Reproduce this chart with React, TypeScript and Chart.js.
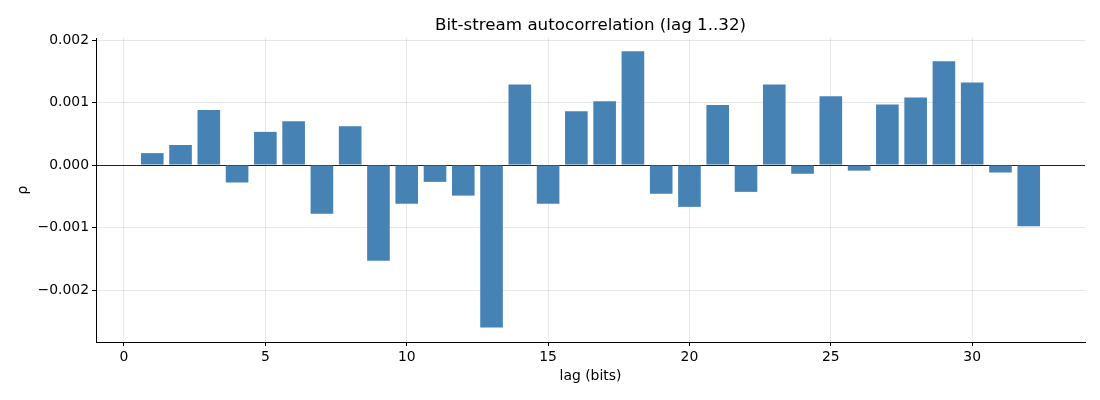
import React, { useEffect, useRef } from 'react';
import { Chart, registerables } from 'chart.js';

Chart.register(...registerables);

// lag 1..32
const lags = Array.from({ length: 32 }, (_, i) => i + 1);
const rho = [
  0.00019, 0.00032, 0.00088, -0.00028, 0.00053, 0.0007, -0.00078, 0.00062,
  -0.00153, -0.00062, -0.00027, -0.00049, -0.0026, 0.00129, -0.00062, 0.00086,
  0.00102, 0.00182, -0.00046, -0.00067, 0.00096, -0.00043, 0.00129, -0.00014,
  0.0011, -0.00009, 0.00097, 0.00108, 0.00166, 0.00132, -0.00012, -0.00098,
];
const xTicks = [0, 5, 10, 15, 20, 25, 30];
const yTicks = [-0.002, -0.001, 0, 0.001, 0.002];

const TITLE = 'Bit-stream autocorrelation (lag 1..32)';
const FONT = "'DejaVu Sans', sans-serif";

const fmtY = (v: number) => {
  const s = Math.abs(v).toFixed(3);
  return v < -1e-9 ? '\u2212' + s : s;
};

// title centred over the plot area, like matplotlib
const titlePlugin = {
  id: 'axesTitle',
  afterDraw(chart: any) {
    const { ctx, chartArea } = chart;
    ctx.save();
    ctx.font = `16.7px ${FONT}`;
    ctx.fillStyle = '#000';
    ctx.textAlign = 'center';
    ctx.textBaseline = 'alphabetic';
    ctx.fillText(TITLE, (chartArea.left + chartArea.right) / 2, 29.5);
    ctx.restore();
  },
};

const App = () => {
  const canvasRef = useRef<HTMLCanvasElement | null>(null);

  useEffect(() => {
    document.body.style.margin = '0';
    const ctx = canvasRef.current?.getContext('2d');
    if (!ctx) return;

    const tickFont = { family: FONT, size: 13.9 };
    const gridColor = 'rgba(176,176,176,0.3)';

    const chart = new Chart(ctx, {
      type: 'bar',
      data: {
        datasets: [
          {
            data: lags.map((l, i) => ({ x: l, y: rho[i] })),
            backgroundColor: '#4682B4',
            borderWidth: 0,
            barPercentage: 0.8,
            categoryPercentage: 1,
          },
        ],
      },
      plugins: [titlePlugin],
      options: {
        animation: false,
        responsive: true,
        maintainAspectRatio: false,
        layout: { padding: { left: 0, right: 15, top: 38, bottom: 0 } },
        plugins: {
          legend: { display: false },
          tooltip: { enabled: false },
          title: { display: false },
        },
        scales: {
          x: {
            type: 'linear',
            min: -0.99,
            max: 33.99,
            offset: false,
            z: 1,
            afterBuildTicks: (scale: any) => {
              scale.ticks = xTicks.map((v) => ({ value: v }));
            },
            afterFit: (scale: any) => {
              scale.height = 58;
            },
            ticks: {
              color: '#000',
              font: tickFont,
              padding: 3,
              maxRotation: 0,
              callback: (v: any) => String(v),
            },
            grid: {
              offset: false,
              color: gridColor,
              lineWidth: 1,
              tickColor: '#000',
              tickLength: 4,
              tickWidth: 1,
            },
            border: { display: true, color: '#000', width: 1 },
            title: {
              display: true,
              text: 'lag (bits)',
              color: '#000',
              font: tickFont,
              padding: { top: 0, bottom: 14.9 },
            },
          },
          y: {
            min: -0.002832,
            max: 0.002032,
            z: 1,
            afterBuildTicks: (scale: any) => {
              scale.ticks = yTicks.map((v) => ({ value: v }));
            },
            afterFit: (scale: any) => {
              scale.width = 96;
            },
            ticks: {
              color: '#000',
              font: tickFont,
              padding: 3,
              callback: (v: any) => fmtY(Number(v)),
            },
            grid: {
              color: (c: any) => (c.tick && Math.abs(c.tick.value) < 1e-12 ? '#222' : gridColor),
              lineWidth: 1,
              tickColor: '#000',
              tickLength: 4,
              tickWidth: 1,
            },
            border: { display: true, color: '#000', width: 1 },
            title: {
              display: true,
              text: 'ρ',
              color: '#000',
              font: tickFont,
              padding: { top: 14.7, bottom: 0 },
            },
          },
        },
      },
    } as any);

    return () => {
      chart.destroy();
    };
  }, []);

  return (
    <div style={{ position: 'relative', width: '1100px', height: '400px' }}>
      <canvas ref={canvasRef}></canvas>
    </div>
  );
};

export default App;
